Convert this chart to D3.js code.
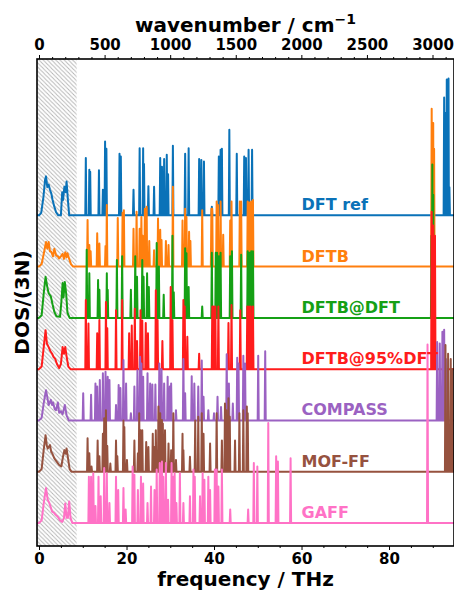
<!DOCTYPE html>
<html>
<head>
<meta charset="utf-8">
<script src="https://cdn.jsdelivr.net/npm/d3@7/dist/d3.min.js"></script>
<style>
body { margin: 0; background: #fff; }
svg text { font-family: "DejaVu Sans", sans-serif; font-weight: bold; }
</style>
</head>
<body>
<div id="chart"></div>
<script>

/******** data ********/

const seriesNames = ["DFT ref", "DFTB", "DFTB@DFT", "DFTB@95%DFT", "COMPASS", "MOF-FF", "GAFF"];
const seriesOffsets = [6, 5, 4, 3, 2, 1, 0];

// broad low-frequency part, [THz, DOS]
const lowDFT = [[0,0],[0.5,0.05],[1.0,0.35],[1.4,0.7],[1.6,0.76],[1.9,0.55],[2.2,0.6],[2.5,0.5],[2.8,0.43],[3.1,0.3],[3.5,0.17],[3.9,0.06],[4.4,0],[5.0,0],[5.3,0.45],[5.5,0.3],[5.8,0.56],[6.1,0.45],[6.3,0.66],[6.6,0.3],[6.9,0],[7.5,0]];
const lowDFTB = [[0,0],[0.6,0.05],[1.2,0.3],[1.6,0.48],[1.9,0.35],[2.2,0.48],[2.5,0.3],[2.8,0.29],[3.2,0.2],[3.5,0.35],[3.9,0.22],[4.3,0.2],[4.6,0.16],[5.0,0.2],[5.4,0.25],[5.7,0.15],[6.0,0.28],[6.3,0.18],[6.5,0.26],[6.9,0.15],[7.3,0.05],[7.8,0]];
const lowDFTBatDFT = [[0,0],[0.6,0.05],[1.1,0.5],[1.5,0.8],[1.9,0.6],[2.2,0.48],[2.7,0.42],[3.1,0.26],[3.5,0.12],[4.0,0.03],[4.8,0.02],[5.1,0.3],[5.4,0.68],[5.6,0.4],[5.9,0.7],[6.2,0.48],[6.5,0.1],[7.0,0]];
const lowDFTB95 = [[0,0],[0.6,0.05],[1.1,0.45],[1.5,0.76],[1.8,0.5],[2.2,0.43],[2.6,0.35],[3.0,0.3],[3.3,0.24],[3.7,0.2],[4.1,0.1],[4.6,0.02],[5.0,0.1],[5.4,0.43],[5.7,0.3],[6.0,0.43],[6.3,0.25],[6.7,0.05],[7.2,0]];
const lowCOMPASS = [[0,0],[0.6,0.05],[1.1,0.35],[1.6,0.59],[2.0,0.4],[2.2,0.3],[2.7,0.4],[3.0,0.3],[3.2,0.35],[3.6,0.22],[3.9,0.2],[4.3,0.35],[4.6,0.15],[5.0,0.18],[5.4,0.12],[5.9,0.3],[6.3,0.1],[6.8,0]];
const lowMOFFF = [[0,0],[0.6,0.05],[1.1,0.45],[1.5,0.71],[1.8,0.5],[2.0,0.45],[2.5,0.52],[2.8,0.38],[3.0,0.36],[3.5,0.26],[4.0,0.2],[4.6,0.13],[5.1,0.1],[5.5,0.3],[5.8,0.42],[6.1,0.35],[6.3,0.45],[6.6,0.28],[7.0,0.05],[7.4,0]];
const lowGAFF = [[0,0],[0.6,0.05],[1.1,0.4],[1.6,0.68],[2.0,0.45],[2.3,0.4],[2.7,0.3],[3.0,0.22],[3.4,0.2],[3.8,0.16],[4.3,0.12],[4.8,0.05],[5.3,0.02],[5.7,0.1],[6.0,0.38],[6.3,0.1],[6.6,0.1],[6.9,0.42],[7.2,0.1],[7.6,0]];

// sharp peaks, [THz, DOS]
const peaksDFT = [[10.7,1.12],[11.5,0.89],[11.7,0.85],[13.7,0.88],[14.6,0.5],[15.1,1.44],[15.4,1.3],[18.4,1.2],[18.7,1.15],[21.6,0.5],[23.0,1.31],[23.8,1.31],[24.0,1.0],[25.0,0.57],[26.3,0.56],[27.7,1.12],[28.1,0.95],[28.6,1.1],[29.2,1.18],[29.5,0.8],[30.6,1.36],[33.4,1.2],[34.2,1.31],[36.6,1.1],[37.1,1.08],[37.7,1.05],[39.5,0.17],[41.1,1.15],[41.5,1.28],[41.8,1.3],[43.5,1.67],[45.2,1.2],[46.9,1.15],[47.3,1.12],[47.9,1.28],[48.7,1.28],[92.6,2.3],[93.0,2.0],[93.2,2.65],[93.6,2.67],[93.8,0.55]];
const peaksDFTB = [[11.1,0.91],[11.5,0.42],[11.8,0.3],[13.3,0.65],[13.8,0.45],[15.2,0.4],[15.5,1.2],[18.0,0.95],[19.1,1.05],[19.4,1.1],[21.6,0.74],[22.3,1.07],[23.0,0.74],[23.4,0.97],[23.7,0.6],[24.2,1.13],[24.6,1.17],[25.2,0.5],[26.3,0.32],[27.2,0.94],[27.7,0.72],[28.0,0.52],[29.0,0.5],[29.6,0.42],[30.6,1.56],[32.8,0.9],[33.4,1.13],[33.7,0.97],[34.3,0.68],[34.6,0.5],[37.3,1.1],[39.4,1.13],[39.6,1.13],[40.6,1.27],[40.9,1.2],[41.5,1.27],[42.1,0.62],[43.7,0.9],[44.0,1.27],[45.9,1.27],[46.2,1.27],[47.7,1.27],[48.1,1.25],[48.5,1.27],[48.9,1.3],[89.75,3.08],[90.1,2.8],[90.3,2.3]];
const peaksDFTBatDFT = [[10.9,1.33],[11.5,0.87],[13.5,0.74],[13.8,0.55],[15.5,0.87],[15.7,0.55],[17.8,1.13],[19.0,1.2],[21.0,0.55],[22.0,1.2],[22.4,0.8],[23.6,1.13],[23.9,0.8],[24.7,0.87],[25.1,0.6],[26.9,1.46],[27.4,1.0],[28.5,0.45],[30.5,1.6],[30.8,0.5],[33.4,1.36],[33.7,1.26],[34.2,0.6],[37.3,0.22],[39.5,1.27],[40.4,1.27],[40.7,1.27],[41.1,1.2],[41.5,1.27],[43.7,1.2],[44.1,1.3],[46.2,1.23],[47.7,1.3],[48.1,1.27],[48.5,1.3],[48.9,1.3],[89.7,1.6],[89.9,2.99],[90.1,2.4]];
const peaksDFTB95 = [[10.7,1.35],[11.3,0.89],[13.3,0.7],[13.8,0.96],[15.3,1.31],[15.6,0.8],[17.6,1.15],[19.0,1.35],[20.6,0.7],[21.2,0.85],[21.9,1.18],[22.4,0.55],[23.2,1.15],[23.6,0.95],[24.4,0.9],[24.9,0.7],[26.7,1.54],[27.1,0.96],[28.2,0.55],[30.1,1.6],[30.5,0.96],[33.0,1.35],[33.3,1.22],[33.9,0.63],[36.6,0.3],[39.6,1.22],[39.9,1.22],[40.3,1.22],[41.0,1.22],[43.3,0.9],[44.0,1.25],[46.0,1.15],[47.6,1.22],[48.0,1.22],[48.4,1.22],[48.9,1.22],[89.75,3.07],[90.1,2.8],[90.5,2.6]];
const peaksCOMPASS = [[10.1,0.53],[11.9,0.5],[12.9,0.72],[13.3,0.66],[13.9,0.79],[14.6,0.92],[15.2,0.95],[15.7,0.85],[16.1,0.79],[17.6,0.3],[18.2,0.69],[18.6,0.63],[19.3,1.18],[19.9,0.72],[21.0,0.14],[21.8,0.66],[22.5,0.98],[23.1,1.24],[23.4,1.11],[23.8,0.85],[24.8,0.92],[25.4,0.72],[25.9,0.7],[26.6,0.7],[27.5,1.11],[28.0,1.0],[28.6,0.72],[29.4,0.85],[29.9,0.66],[30.2,0.72],[31.3,0.2],[33.0,1.2],[33.4,0.53],[34.9,0.86],[35.5,0.72],[36.4,0.66],[37.2,1.17],[37.6,0.46],[38.7,0.2],[40.0,0.14],[40.8,0.46],[41.6,0.26],[42.9,1.29],[43.4,0.72],[44.3,0.33],[45.3,1.22],[45.6,1.11],[46.7,1.26],[47.1,1.11],[50.1,1.26],[51.7,1.35],[91.0,1.53],[91.6,1.5],[92.2,1.73],[92.6,1.77],[93.0,1.2]];
const peaksMOFFF = [[11.1,0.65],[11.5,0.36],[12.0,0.1],[13.4,0.61],[13.8,0.3],[14.6,0.74],[14.9,1.04],[15.3,1.2],[15.6,0.5],[16.3,0.16],[17.6,0.61],[17.9,0.3],[19.3,1.0],[19.5,0.87],[20.1,0.23],[21.8,0.61],[22.6,0.36],[22.9,1.14],[23.2,0.81],[23.6,0.81],[24.5,0.58],[25.0,0.48],[26.0,0.74],[26.3,0.48],[26.7,0.81],[27.3,1.27],[27.7,1.14],[28.1,1.01],[28.3,0.94],[28.8,0.81],[29.6,0.55],[30.2,0.42],[30.7,1.14],[31.3,0.23],[32.8,0.74],[33.0,0.42],[34.5,0.29],[35.7,1.0],[36.4,1.07],[37.2,1.14],[37.6,0.74],[39.1,0.55],[40.6,1.14],[41.8,0.61],[42.5,1.33],[42.8,1.2],[43.3,1.43],[43.6,1.07],[44.8,0.61],[45.8,1.14],[46.7,1.2],[47.5,1.27],[47.7,1.14],[92.9,2.47],[93.5,2.3],[94.1,2.2],[94.5,2.0]];
const peaksGAFF = [[11.4,0.9],[11.9,0.9],[12.4,0.97],[12.9,0.33],[13.6,0.9],[14.1,0.52],[14.9,1.07],[15.5,0.97],[16.1,0.39],[17.6,0.9],[18.1,0.64],[19.3,0.68],[19.8,0.26],[21.4,1.1],[21.8,0.94],[22.6,0.64],[23.3,0.9],[23.8,0.77],[24.8,0.39],[25.6,0.71],[26.4,0.64],[26.9,1.04],[27.6,1.17],[28.1,1.2],[28.4,0.9],[29.0,1.17],[29.5,0.45],[30.3,1.17],[30.7,0.9],[31.0,0.97],[31.4,0.39],[32.2,0.97],[33.0,0.39],[34.5,0.52],[35.3,1.04],[35.6,0.9],[36.8,0.52],[37.4,0.97],[37.8,0.84],[38.7,0.9],[39.1,0.64],[40.2,1.04],[40.6,1.04],[41.0,0.71],[41.8,1.04],[43.7,0.26],[47.8,0.26],[49.1,1.17],[49.9,1.1],[52.4,1.95],[54.2,1.3],[54.6,1.2],[57.5,1.26],[88.8,3.48]];

const lowParts = [lowDFT, lowDFTB, lowDFTBatDFT, lowDFTB95, lowCOMPASS, lowMOFFF, lowGAFF];
const peakParts = [peaksDFT, peaksDFTB, peaksDFTBatDFT, peaksDFTB95, peaksCOMPASS, peaksMOFFF, peaksGAFF];

const freqTicks = [0, 20, 40, 60, 80];
const waveTicks = [0, 500, 1000, 1500, 2000, 2500, 3000];
const hatchEnd = 8.6;          // THz, shaded low-frequency band
const THZ_TO_CM = 33.356;

/******** styles ********/

const colors = ["#0a72b8", "#ff7f0e", "#15a015", "#ff1c1c", "#9b62c2", "#96523f", "#ff72c6"];
const W = 454, H = 590;
const box = {left: 37, right: 454, top: 59, bottom: 546};
const spikeHalf = 0.12;

/******** chart ********/

const svg = d3.select("#chart").append("svg")
    .attr("width", W)
    .attr("height", H);

const x = d3.scaleLinear().domain([-0.46, 94.85]).range([box.left, box.right]);
const xTop = d3.scaleLinear()
    .domain(x.domain().map(function (d) { return d * THZ_TO_CM; }))
    .range([box.left, box.right]);
const y = d3.scaleLinear().domain([-0.45, 9.05]).range([box.bottom, box.top]);

const defs = svg.append("defs");
defs.append("clipPath").attr("id", "plotclip")
    .append("rect")
    .attr("x", box.left).attr("y", box.top)
    .attr("width", box.right - box.left).attr("height", box.bottom - box.top);

const hatch = defs.append("pattern")
    .attr("id", "hatch")
    .attr("patternUnits", "userSpaceOnUse")
    .attr("width", 4.2).attr("height", 4.2);
hatch.append("path")
    .attr("d", "M-1,-1 L5.2,5.2 M3.2,-1 L5.2,1 M-1,3.2 L1,5.2")
    .attr("stroke", "#b4b4b4")
    .attr("stroke-width", 0.9);

const plot = svg.append("g").attr("clip-path", "url(#plotclip)");

plot.append("rect")
    .attr("x", x(x.domain()[0]))
    .attr("y", box.top)
    .attr("width", x(hatchEnd) - x(x.domain()[0]))
    .attr("height", box.bottom - box.top)
    .attr("fill", "url(#hatch)");

function buildPoints(low, peaks) {
    let pts = low.slice();
    peaks.forEach(function (p) {
        pts.push([p[0] - spikeHalf, 0], p, [p[0] + spikeHalf, 0]);
    });
    pts.push([x.domain()[1] + 2, 0]);
    pts.unshift([x.domain()[0] - 2, 0]);
    pts.sort(function (a, b) { return a[0] - b[0]; });
    return pts;
}

seriesNames.forEach(function (name, i) {
    const off = seriesOffsets[i];
    const line = d3.line()
        .x(function (d) { return x(d[0]); })
        .y(function (d) { return y(d[1] + off); });

    plot.append("path")
        .datum(buildPoints(lowParts[i], peakParts[i]))
        .attr("fill", "none")
        .attr("stroke", colors[i])
        .attr("stroke-width", 2)
        .attr("stroke-linejoin", "round")
        .attr("d", line);

    svg.append("text")
        .attr("x", x(60))
        .attr("y", y(off) - 5)
        .attr("fill", colors[i])
        .attr("font-size", 16)
        .text(name);
});

/******** axes ********/

svg.append("g")
    .attr("transform", "translate(0," + box.bottom + ")")
    .call(d3.axisBottom(x).tickValues(freqTicks).tickFormat(d3.format("d"))
        .tickSize(4).tickPadding(3.5));
svg.append("g")
    .attr("transform", "translate(0," + box.bottom + ")")
    .call(d3.axisBottom(x)
        .tickValues(d3.range(5, 95, 5).filter(function (v) { return v % 20 !== 0; }))
        .tickSize(2).tickFormat(""));

svg.append("g")
    .attr("transform", "translate(0," + box.top + ")")
    .call(d3.axisTop(xTop).tickValues(waveTicks).tickFormat(d3.format("d"))
        .tickSize(4).tickPadding(5));
svg.append("g")
    .attr("transform", "translate(0," + box.top + ")")
    .call(d3.axisTop(xTop)
        .tickValues(d3.range(100, 3160, 100).filter(function (v) { return v % 500 !== 0; }))
        .tickSize(2).tickFormat(""));

svg.selectAll(".domain").remove();
svg.selectAll(".tick line").attr("stroke", "#000").attr("stroke-width", 1);
svg.selectAll(".tick text")
    .attr("font-size", 15)
    .attr("fill", "#000")
    .attr("font-family", "DejaVu Sans")
    .attr("font-weight", "bold");

// frame
svg.append("rect")
    .attr("x", box.left).attr("y", box.top)
    .attr("width", box.right - box.left).attr("height", box.bottom - box.top)
    .attr("fill", "none")
    .attr("stroke", "#000")
    .attr("stroke-width", 1.6);

// titles
svg.append("text")
    .attr("x", (box.left + box.right) / 2)
    .attr("y", 586)
    .attr("text-anchor", "middle")
    .attr("font-size", 20)
    .text("frequency / THz");

const topTitle = svg.append("text")
    .attr("x", (box.left + box.right) / 2)
    .attr("y", 32)
    .attr("text-anchor", "middle")
    .attr("font-size", 20)
    .text("wavenumber / cm");
topTitle.append("tspan")
    .attr("dy", -8)
    .attr("font-size", 14)
    .text("\u22121");

svg.append("text")
    .attr("transform", "translate(29," + (box.top + box.bottom) / 2 + ") rotate(-90)")
    .attr("text-anchor", "middle")
    .attr("font-size", 20)
    .text("DOS/(3N)");

</script>
</body>
</html>
